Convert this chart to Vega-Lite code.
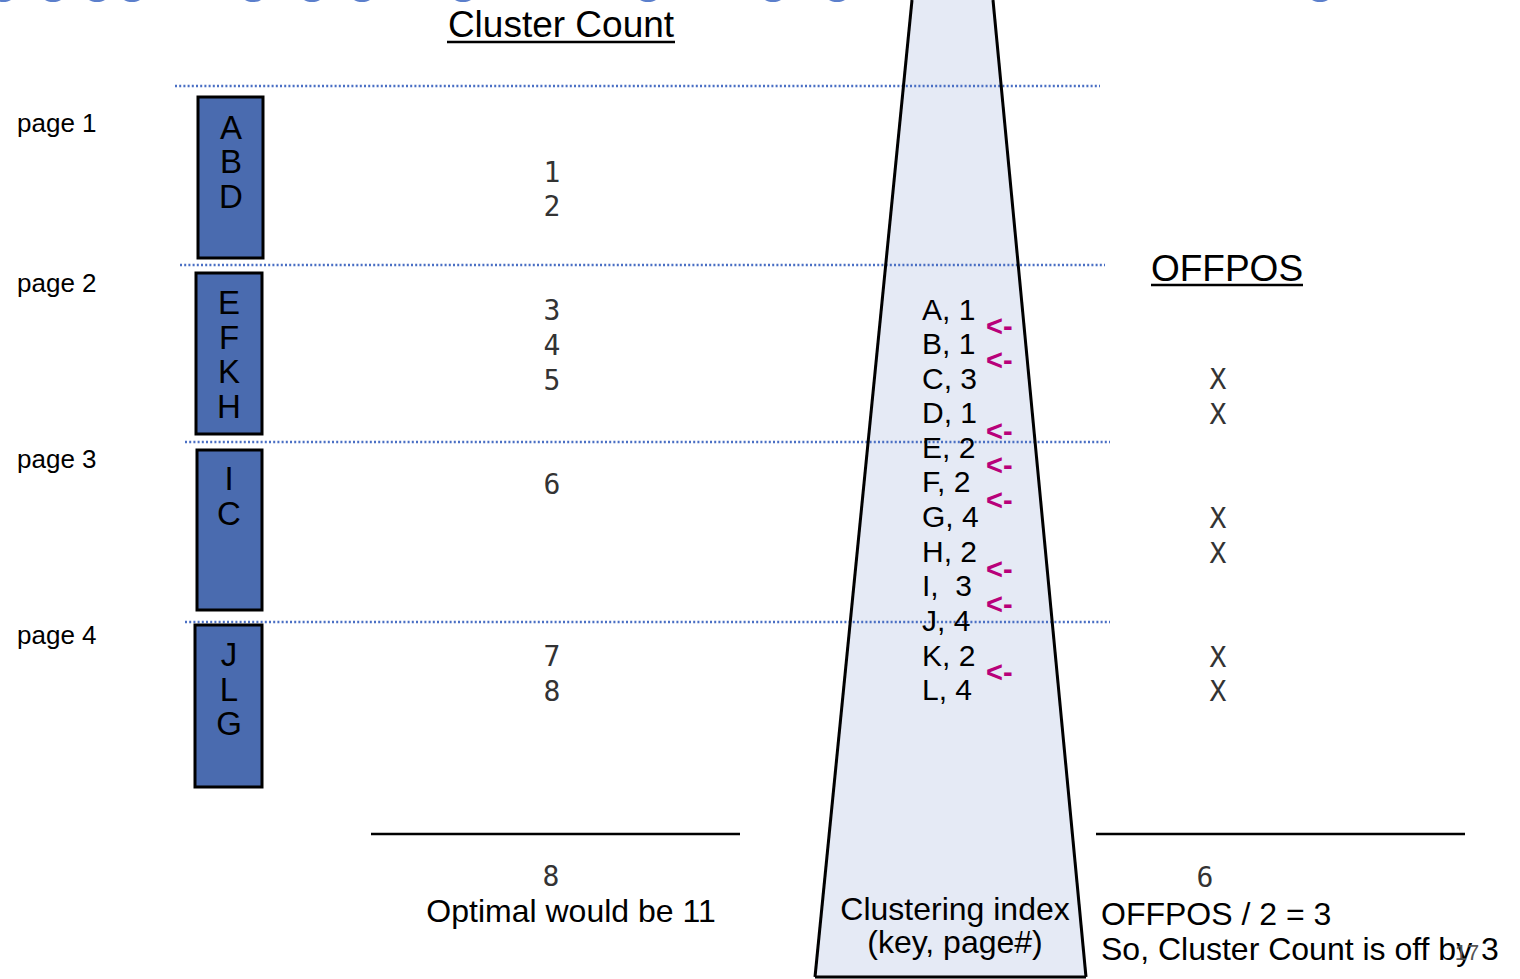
{
  "$schema": "https://vega.github.io/schema/vega-lite/v6.json",
  "width": 1520,
  "height": 979,
  "autosize": {"type": "fit", "contains": "padding"},
  "padding": 0,
  "background": "white",
  "config": {"view": {"stroke": null}},
  "datasets": {
    "topDots": [{"x": 3}, {"x": 53}, {"x": 97}, {"x": 132}, {"x": 253}, {"x": 312}, {"x": 362}, {"x": 463}, {"x": 648}, {"x": 773}, {"x": 837}, {"x": 1320}],
    "trapezoid": [{"y": 0, "xl": 912, "xr": 993}, {"y": 977, "xl": 815, "xr": 1086}],
    "trapEdges": [
      {"x": 912, "y": 0, "x2": 815, "y2": 977},
      {"x": 993, "y": 0, "x2": 1086, "y2": 977},
      {"x": 815, "y": 977, "x2": 1086, "y2": 977}
    ],
    "pageLines": [
      {"x": 175, "y": 86, "x2": 1100, "y2": 86},
      {"x": 180, "y": 265, "x2": 1105, "y2": 265},
      {"x": 185, "y": 442, "x2": 1110, "y2": 442},
      {"x": 185, "y": 622, "x2": 1110, "y2": 622}
    ],
    "solidLines": [
      {"x": 447, "y": 42, "x2": 675, "y2": 42},
      {"x": 1151, "y": 285, "x2": 1303, "y2": 285},
      {"x": 371, "y": 834, "x2": 740, "y2": 834},
      {"x": 1096, "y": 834, "x2": 1465, "y2": 834}
    ],
    "pages": [
      {"page": "page 1", "x": 198, "x2": 263, "y": 97, "y2": 258, "ly": 132},
      {"page": "page 2", "x": 196, "x2": 262, "y": 273, "y2": 434, "ly": 292},
      {"page": "page 3", "x": 197, "x2": 262, "y": 450, "y2": 610, "ly": 468},
      {"page": "page 4", "x": 195, "x2": 262, "y": 625, "y2": 787, "ly": 644}
    ],
    "rowKeys": [
      {"key": "A", "x": 231, "y": 139}, {"key": "B", "x": 231, "y": 173}, {"key": "D", "x": 231, "y": 208},
      {"key": "E", "x": 229, "y": 314}, {"key": "F", "x": 229, "y": 349}, {"key": "K", "x": 229, "y": 383}, {"key": "H", "x": 229, "y": 418},
      {"key": "I", "x": 229, "y": 490}, {"key": "C", "x": 229, "y": 525},
      {"key": "J", "x": 229, "y": 666}, {"key": "L", "x": 229, "y": 701}, {"key": "G", "x": 229, "y": 735}
    ],
    "monoTexts": [
      {"t": "1", "x": 552, "y": 182}, {"t": "2", "x": 552, "y": 216}, {"t": "3", "x": 552, "y": 320},
      {"t": "4", "x": 552, "y": 355}, {"t": "5", "x": 552, "y": 390}, {"t": "6", "x": 552, "y": 494},
      {"t": "7", "x": 552, "y": 666}, {"t": "8", "x": 552, "y": 701}, {"t": "8", "x": 551, "y": 886},
      {"t": "X", "x": 1218, "y": 389}, {"t": "X", "x": 1218, "y": 424}, {"t": "X", "x": 1218, "y": 528},
      {"t": "X", "x": 1218, "y": 563}, {"t": "X", "x": 1218, "y": 667}, {"t": "X", "x": 1218, "y": 701},
      {"t": "6", "x": 1205, "y": 887}
    ],
    "indexEntries": [
      {"t": "A, 1", "y": 320}, {"t": "B, 1", "y": 354}, {"t": "C, 3", "y": 389}, {"t": "D, 1", "y": 423},
      {"t": "E, 2", "y": 458}, {"t": "F, 2", "y": 492}, {"t": "G, 4", "y": 527}, {"t": "H, 2", "y": 562},
      {"t": "I,\u00a0\u00a03", "y": 596}, {"t": "J, 4", "y": 631}, {"t": "K, 2", "y": 666}, {"t": "L, 4", "y": 700}
    ],
    "arrows": [{"y": 336}, {"y": 370}, {"y": 441}, {"y": 475}, {"y": 510}, {"y": 579}, {"y": 614}, {"y": 682}],
    "titles": [{"t": "Cluster Count", "x": 561, "y": 37}, {"t": "OFFPOS", "x": 1227, "y": 281}],
    "centerTexts": [
      {"t": "Optimal would be 11", "x": 571, "y": 922},
      {"t": "Clustering index", "x": 955, "y": 920},
      {"t": "(key, page#)", "x": 955, "y": 953}
    ],
    "leftTexts": [
      {"t": "OFFPOS / 2 = 3", "x": 1101, "y": 925},
      {"t": "So, Cluster Count is off by 3", "x": 1101, "y": 960}
    ],
    "slideNo": [{"t": "17", "x": 1467, "y": 960}]
  },
  "layer": [
    {
      "data": {"name": "trapezoid"},
      "mark": {"type": "area", "orient": "horizontal", "fill": "#e5eaf5", "clip": true},
      "encoding": {
        "y": {"field": "y", "type": "quantitative", "scale": {"domain": [0, 979], "reverse": true, "nice": false, "zero": false}, "axis": null},
        "x": {"field": "xl", "type": "quantitative", "scale": {"domain": [0, 1520], "nice": false, "zero": false}, "axis": null},
        "x2": {"field": "xr"}
      }
    },
    {
      "data": {"name": "topDots"},
      "mark": {"type": "point", "shape": "M-1,0A1,0.45,0,1,1,1,0A1,0.45,0,1,1,-1,0Z", "filled": true, "size": 330, "color": "#5b7fcc", "opacity": 1, "clip": true},
      "encoding": {
        "x": {"field": "x", "type": "quantitative", "scale": {"domain": [0, 1520], "nice": false, "zero": false}, "axis": null},
        "y": {"datum": -2, "type": "quantitative", "scale": {"domain": [0, 979], "reverse": true, "nice": false, "zero": false}, "axis": null}
      }
    },
    {
      "data": {"name": "pageLines"},
      "mark": {"type": "rule", "color": "#4a6fc4", "strokeWidth": 2.5, "strokeDash": [2, 2.2]},
      "encoding": {
        "x": {"field": "x", "type": "quantitative", "scale": {"domain": [0, 1520], "nice": false, "zero": false}, "axis": null},
        "y": {"field": "y", "type": "quantitative", "scale": {"domain": [0, 979], "reverse": true, "nice": false, "zero": false}, "axis": null},
        "x2": {"field": "x2"},
        "y2": {"field": "y2"}
      }
    },
    {
      "data": {"name": "trapEdges"},
      "mark": {"type": "rule", "color": "black", "strokeWidth": 3, "clip": true},
      "encoding": {
        "x": {"field": "x", "type": "quantitative", "scale": {"domain": [0, 1520], "nice": false, "zero": false}, "axis": null},
        "y": {"field": "y", "type": "quantitative", "scale": {"domain": [0, 979], "reverse": true, "nice": false, "zero": false}, "axis": null},
        "x2": {"field": "x2"},
        "y2": {"field": "y2"}
      }
    },
    {
      "data": {"name": "solidLines"},
      "mark": {"type": "rule", "color": "black", "strokeWidth": 2.5},
      "encoding": {
        "x": {"field": "x", "type": "quantitative", "scale": {"domain": [0, 1520], "nice": false, "zero": false}, "axis": null},
        "y": {"field": "y", "type": "quantitative", "scale": {"domain": [0, 979], "reverse": true, "nice": false, "zero": false}, "axis": null},
        "x2": {"field": "x2"},
        "y2": {"field": "y2"}
      }
    },
    {
      "data": {"name": "pages"},
      "mark": {"type": "rect", "fill": "#4a6baf", "stroke": "black", "strokeWidth": 3},
      "encoding": {
        "x": {"field": "x", "type": "quantitative", "scale": {"domain": [0, 1520], "nice": false, "zero": false}, "axis": null},
        "y": {"field": "y", "type": "quantitative", "scale": {"domain": [0, 979], "reverse": true, "nice": false, "zero": false}, "axis": null},
        "x2": {"field": "x2"},
        "y2": {"field": "y2"}
      }
    },
    {
      "data": {"name": "pages"},
      "mark": {"type": "text", "align": "left", "baseline": "alphabetic", "font": "Liberation Sans", "fontSize": 26, "color": "black"},
      "encoding": {
        "x": {"datum": 17, "type": "quantitative", "scale": {"domain": [0, 1520], "nice": false, "zero": false}, "axis": null},
        "y": {"field": "ly", "type": "quantitative", "scale": {"domain": [0, 979], "reverse": true, "nice": false, "zero": false}, "axis": null},
        "text": {"field": "page"}
      }
    },
    {
      "data": {"name": "rowKeys"},
      "mark": {"type": "text", "align": "center", "baseline": "alphabetic", "font": "Liberation Sans", "fontSize": 33, "color": "black"},
      "encoding": {
        "x": {"field": "x", "type": "quantitative", "scale": {"domain": [0, 1520], "nice": false, "zero": false}, "axis": null},
        "y": {"field": "y", "type": "quantitative", "scale": {"domain": [0, 979], "reverse": true, "nice": false, "zero": false}, "axis": null},
        "text": {"field": "key"}
      }
    },
    {
      "data": {"name": "monoTexts"},
      "mark": {"type": "text", "align": "center", "baseline": "alphabetic", "font": "DejaVu Sans Mono", "fontSize": 28, "color": "#333333"},
      "encoding": {
        "x": {"field": "x", "type": "quantitative", "scale": {"domain": [0, 1520], "nice": false, "zero": false}, "axis": null},
        "y": {"field": "y", "type": "quantitative", "scale": {"domain": [0, 979], "reverse": true, "nice": false, "zero": false}, "axis": null},
        "text": {"field": "t"}
      }
    },
    {
      "data": {"name": "indexEntries"},
      "mark": {"type": "text", "align": "left", "baseline": "alphabetic", "font": "Liberation Sans", "fontSize": 30, "color": "black"},
      "encoding": {
        "x": {"datum": 922, "type": "quantitative", "scale": {"domain": [0, 1520], "nice": false, "zero": false}, "axis": null},
        "y": {"field": "y", "type": "quantitative", "scale": {"domain": [0, 979], "reverse": true, "nice": false, "zero": false}, "axis": null},
        "text": {"field": "t"}
      }
    },
    {
      "data": {"name": "arrows"},
      "mark": {"type": "text", "align": "left", "baseline": "alphabetic", "font": "Liberation Sans", "fontSize": 29, "fontWeight": "bold", "color": "#b8007a", "text": "<-"},
      "encoding": {
        "x": {"datum": 986, "type": "quantitative", "scale": {"domain": [0, 1520], "nice": false, "zero": false}, "axis": null},
        "y": {"field": "y", "type": "quantitative", "scale": {"domain": [0, 979], "reverse": true, "nice": false, "zero": false}, "axis": null}
      }
    },
    {
      "data": {"name": "titles"},
      "mark": {"type": "text", "align": "center", "baseline": "alphabetic", "font": "Liberation Sans", "fontSize": 37, "color": "black"},
      "encoding": {
        "x": {"field": "x", "type": "quantitative", "scale": {"domain": [0, 1520], "nice": false, "zero": false}, "axis": null},
        "y": {"field": "y", "type": "quantitative", "scale": {"domain": [0, 979], "reverse": true, "nice": false, "zero": false}, "axis": null},
        "text": {"field": "t"}
      }
    },
    {
      "data": {"name": "centerTexts"},
      "mark": {"type": "text", "align": "center", "baseline": "alphabetic", "font": "Liberation Sans", "fontSize": 32, "color": "black"},
      "encoding": {
        "x": {"field": "x", "type": "quantitative", "scale": {"domain": [0, 1520], "nice": false, "zero": false}, "axis": null},
        "y": {"field": "y", "type": "quantitative", "scale": {"domain": [0, 979], "reverse": true, "nice": false, "zero": false}, "axis": null},
        "text": {"field": "t"}
      }
    },
    {
      "data": {"name": "leftTexts"},
      "mark": {"type": "text", "align": "left", "baseline": "alphabetic", "font": "Liberation Sans", "fontSize": 32, "color": "black"},
      "encoding": {
        "x": {"field": "x", "type": "quantitative", "scale": {"domain": [0, 1520], "nice": false, "zero": false}, "axis": null},
        "y": {"field": "y", "type": "quantitative", "scale": {"domain": [0, 979], "reverse": true, "nice": false, "zero": false}, "axis": null},
        "text": {"field": "t"}
      }
    },
    {
      "data": {"name": "slideNo"},
      "mark": {"type": "text", "align": "center", "baseline": "alphabetic", "font": "Liberation Sans", "fontSize": 22, "color": "#555555"},
      "encoding": {
        "x": {"field": "x", "type": "quantitative", "scale": {"domain": [0, 1520], "nice": false, "zero": false}, "axis": null},
        "y": {"field": "y", "type": "quantitative", "scale": {"domain": [0, 979], "reverse": true, "nice": false, "zero": false}, "axis": null},
        "text": {"field": "t"}
      }
    }
  ]
}
